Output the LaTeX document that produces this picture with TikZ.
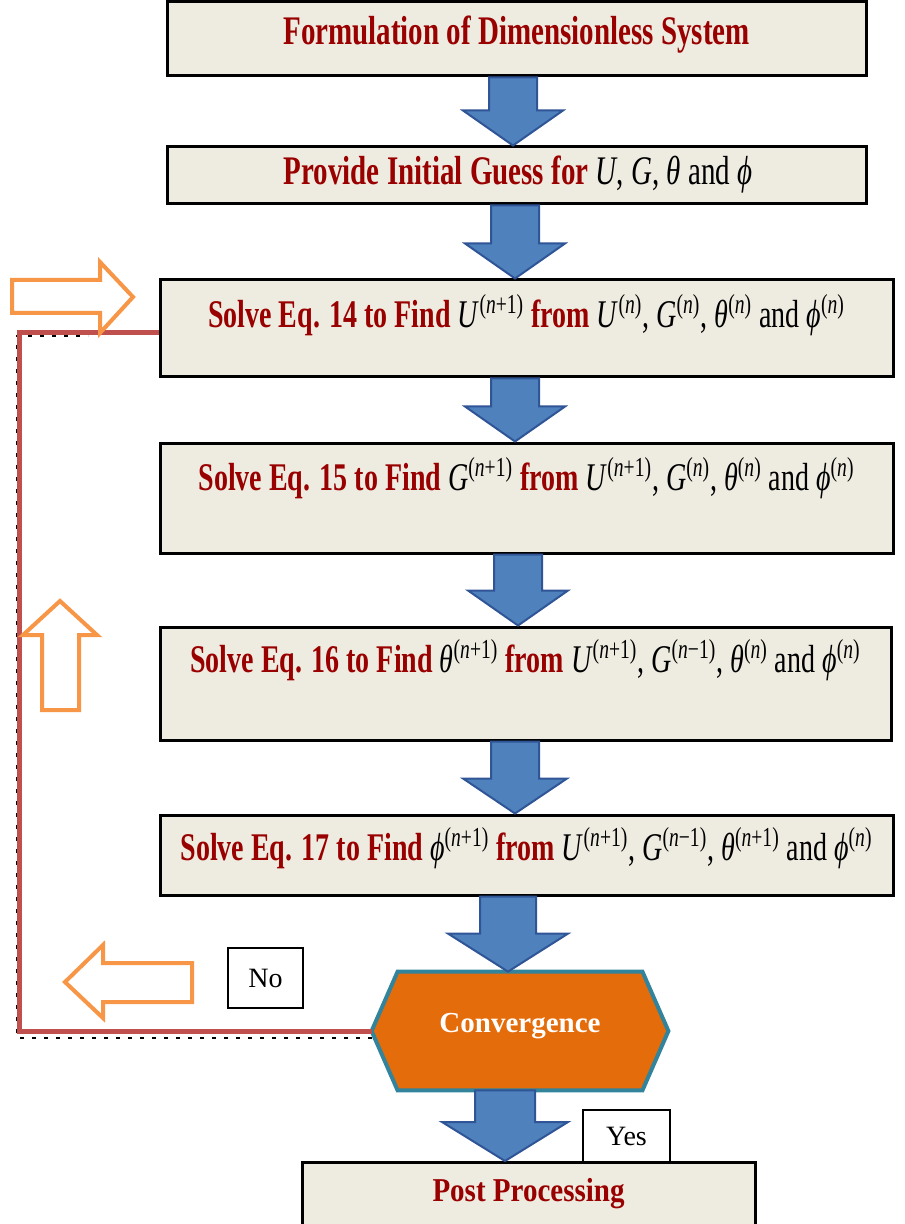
\documentclass[tikz,border=0pt]{standalone}
\usepackage{fontspec}
\setmainfont{Liberation Serif}
\usetikzlibrary{calc,backgrounds}

\definecolor{boxbg}{HTML}{EEECE1}
\definecolor{darkred}{HTML}{990000}
\definecolor{arrblue}{HTML}{4F81BD}
\definecolor{arrline}{HTML}{2F5597}
\definecolor{loopred}{HTML}{C0504D}
\definecolor{hintorange}{HTML}{F79646}
\definecolor{convfill}{HTML}{E46C0A}
\definecolor{convline}{HTML}{31849B}

\newcommand{\rb}[1]{{\color{darkred}\bfseries #1}}
\newcommand{\sv}[2]{\textit{#1}\textsuperscript{(\textit{n}#2)}}
\newcommand{\tall}[2][1.4]{\scalebox{1}[#1]{#2}}

% blue block arrow: from, to, centre x, shaft half width, head half width, head length
\newcommand{\blkarrow}[6]{%
  \draw[blockarr] let \p1=(#1.south), \p2=(#2.north) in
    (#3-#4,\y1) -- (#3-#4,\y2+#6) -- (#3-#5,\y2+#6) -- (#3,\y2)
    -- (#3+#5,\y2+#6) -- (#3+#4,\y2+#6) -- (#3+#4,\y1) -- cycle;}

\begin{document}
\begin{tikzpicture}[x=0.5pt,y=-0.5pt,
  stepbox/.style={draw=black,line width=1.5pt,fill=boxbg,inner sep=0pt},
  steptext/.style={font=\fontsize{14}{16}\selectfont,inner sep=0pt},
  blockarr/.style={fill=arrblue,draw=arrline,line width=1pt,line join=miter},
  hint/.style={draw=hintorange,line width=2pt,fill=white,line join=miter},
  loopline/.style={draw=loopred,line width=2.5pt},
  tagbox/.style={draw=black,line width=1.2pt,fill=white,inner sep=0pt,
    font=\fontsize{14}{16}\selectfont}]
  \useasboundingbox (0,0) rectangle (904,1224);

  % ---- process boxes ----
  \node[stepbox,minimum width=349.5pt,minimum height=37pt] (form) at (516.5,39) {};
  \node[stepbox,minimum width=349.5pt,minimum height=28.5pt] (guess) at (516.5,175.5) {};
  \node[stepbox,minimum width=366.5pt,minimum height=48.5pt] (eq14) at (526.5,328.5) {};
  \node[stepbox,minimum width=366.5pt,minimum height=55pt] (eq15) at (526.5,498) {};
  \node[stepbox,minimum width=365.5pt,minimum height=56.5pt] (eq16) at (525.5,683.5) {};
  \node[stepbox,minimum width=366.5pt,minimum height=40pt] (eq17) at (526.5,855) {};
  \node[stepbox,minimum width=226.5pt,minimum height=31.5pt,font=\fontsize{14.5}{16}\selectfont]
    (post) at (528.5,1194) {\tall[1.15]{\rb{Post Processing}}};

  % ---- convergence test ----
  \node[minimum width=148pt,minimum height=59pt,inner sep=0pt,text=white,
    font=\fontsize{14.5}{16}\selectfont\bfseries] (conv) at (520,1031) {\raisebox{8pt}{Convergence}};
  \begin{scope}[on background layer]
    \draw[fill=convfill,draw=convline,line width=2pt,line join=miter]
      (conv.west) -- ([xshift=13pt]conv.north west) -- ([xshift=-13pt]conv.north east)
      -- (conv.east) -- ([xshift=-13pt]conv.south east) -- ([xshift=13pt]conv.south west) -- cycle;
  \end{scope}

  % ---- texts ----
  \node[steptext,font=\fontsize{14.5}{16}\selectfont] (tform) at (516.5,35)
    {\tall{\rb{Formulation of Dimensionless System}}};
  \node[steptext,font=\fontsize{14.5}{16}\selectfont] (tguess) at (518,175)
    {\tall{\rb{Provide Initial Guess for} \textit{U}, \textit{G}, \textit{θ} and \textit{ϕ}}};
  \node[steptext] (t14) at (526.5,315)
    {\tall{\rb{Solve Eq. 14 to Find} \sv{U}{+1} \rb{from} \sv{U}{}, \sv{G}{}, \sv{θ}{} and \sv{ϕ}{}}};
  \node[steptext] (t15) at (526.5,478)
    {\tall{\rb{Solve Eq. 15 to Find} \sv{G}{+1} \rb{from} \sv{U}{+1}, \sv{G}{}, \sv{θ}{} and \sv{ϕ}{}}};
  \node[steptext] (t16) at (525.5,660)
    {\tall{\rb{Solve Eq. 16 to Find} \sv{θ}{+1} \rb{from} \sv{U}{+1}, \sv{G}{−1}, \sv{θ}{} and \sv{ϕ}{}}};
  \node[steptext] (t17) at (526.5,848)
    {\tall{\rb{Solve Eq. 17 to Find} \sv{ϕ}{+1} \rb{from} \sv{U}{+1}, \sv{G}{−1}, \sv{θ}{+1} and \sv{ϕ}{}}};

  % ---- blue block arrows ----
  \blkarrow{form}{guess}{256.5pt}{12pt}{25pt}{17.5pt}
  \blkarrow{guess}{eq14}{257.5pt}{12pt}{25pt}{17.5pt}
  \blkarrow{eq14}{eq15}{257.5pt}{12pt}{25pt}{17.5pt}
  \blkarrow{eq15}{eq16}{259pt}{12pt}{25pt}{17.5pt}
  \blkarrow{eq16}{eq17}{257.5pt}{12pt}{26pt}{17.5pt}
  \blkarrow{eq17}{conv}{254pt}{14pt}{30pt}{19pt}
  \blkarrow{conv}{post}{252.5pt}{15pt}{31.5pt}{19.5pt}

  % ---- feedback loop ----
  \draw[black,line width=0.8pt,dash pattern=on 2pt off 4pt]
    (372,1038) -- (17,1038) -- (17,336) -- (88,336);
  \draw[loopline] (conv.west) -- ++(-352,0) |- ([yshift=-2pt]eq14.west);

  % ---- orange hint arrows ----
  \draw[hint] (12,280) -- (100,280) -- (100,262) -- (133,297) -- (100,333) -- (100,313) -- (12,313) -- cycle;
  \draw[hint] (42,710) -- (42,635) -- (23,635) -- (60,601) -- (97,635) -- (79,635) -- (79,710) -- cycle;
  \draw[hint] (192,963) -- (103,963) -- (103,945) -- (65,982) -- (103,1018) -- (103,1002) -- (192,1002) -- cycle;

  % ---- answers ----
  \node[tagbox,minimum width=37.5pt,minimum height=30pt] (no) at (265.5,978) {No};
  \node[tagbox,minimum width=43.5pt,minimum height=26pt] (yes) at (626.5,1136) {Yes};
\end{tikzpicture}
\end{document}
